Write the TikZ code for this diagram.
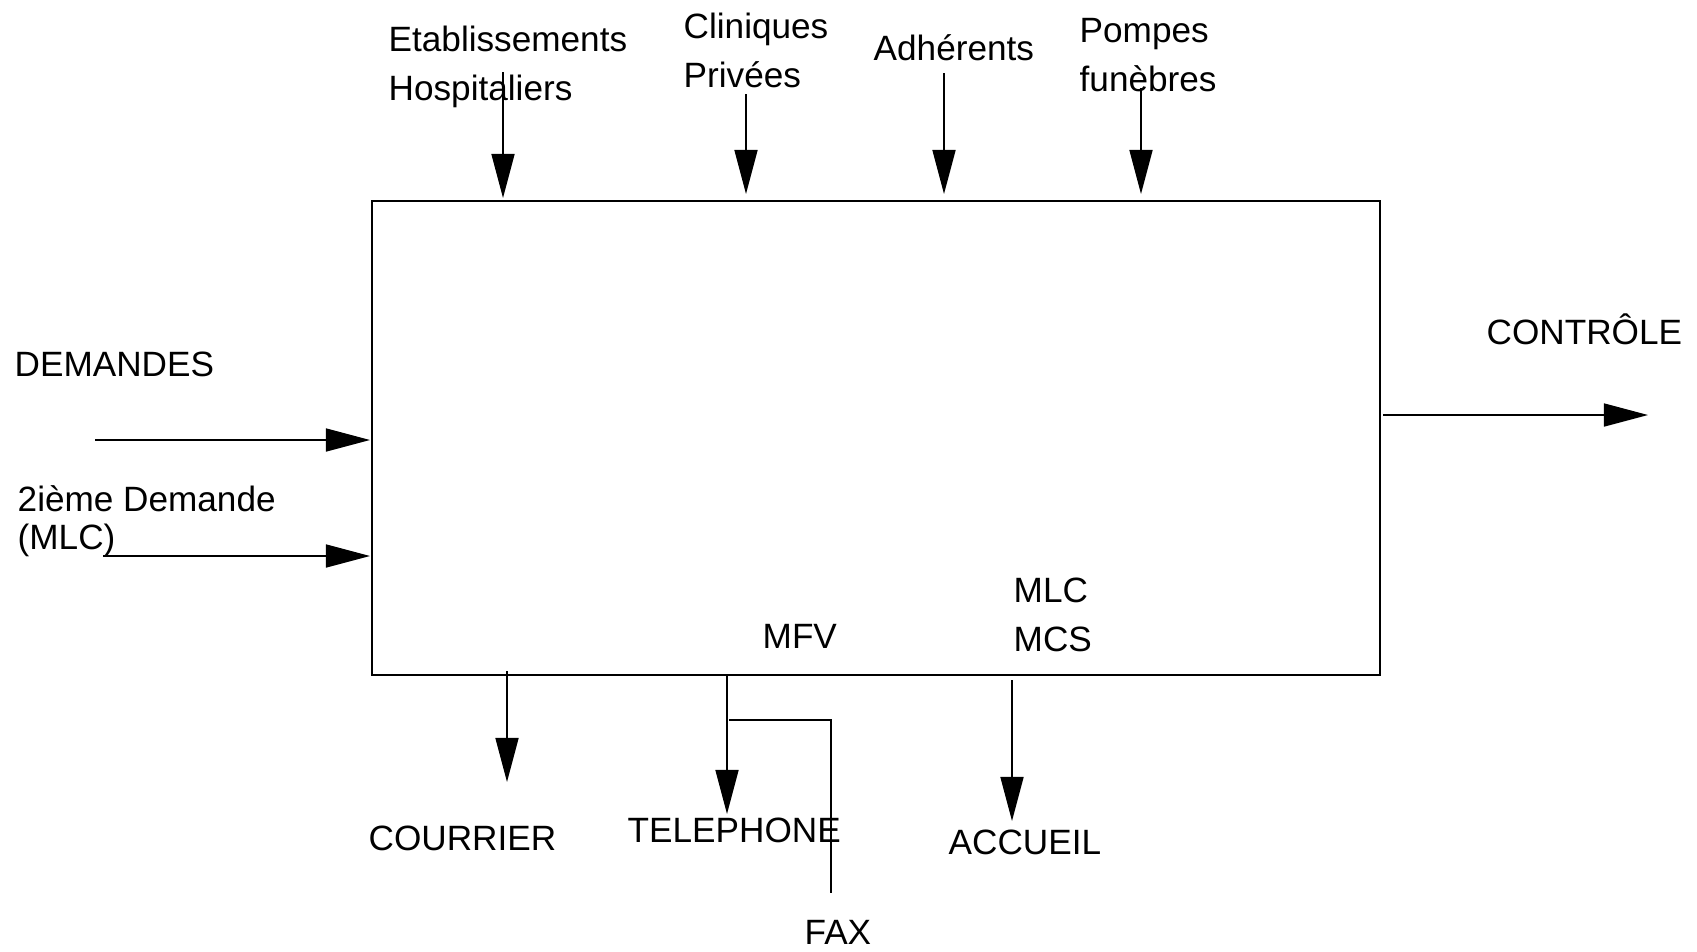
\documentclass[tikz,border=0pt]{standalone}
\usepackage{fontspec}
\setmainfont{Liberation Sans}
\usetikzlibrary{arrows.meta}

\begin{document}
\begin{tikzpicture}[x=0.01cm,y=-0.01cm,
  fl/.style={-{Triangle[length=0.44cm,width=0.23cm]},line width=0.45pt},
  lbl/.style={anchor=west,inner sep=0pt,align=left,font=\fontsize{10}{13.9}\selectfont}]
\useasboundingbox (0,0) rectangle (1697,951) ;
% boite centrale
\node (box) [draw,line width=0.55pt,minimum width=10.08cm,minimum height=4.74cm,inner sep=0pt] at (876,438) {} ;
% entrees du haut
\node (etab) [lbl] at (388,67) {Etablissements\\Hospitaliers} ;
\node (clin) [lbl] at (683,50) {Cliniques\\Priv\'ees} ;
\node (adh) [lbl] at (873,48) {Adh\'erents} ;
\node (pomp) [lbl] at (1079,55) {Pompes\\fun\`ebres} ;
\coordinate (etabA) at (503,72) ; \coordinate (etabB) at (503,198) ;
\coordinate (clinA) at (746,94) ; \coordinate (clinB) at (746,194) ;
\coordinate (adhA) at (944,73) ; \coordinate (adhB) at (944,194) ;
\coordinate (pompA) at (1141,88) ; \coordinate (pompB) at (1141,194) ;
\draw[fl] (etabA) -- (etabB) ;
\draw[fl] (clinA) -- (clinB) ;
\draw[fl] (adhA) -- (adhB) ;
\draw[fl] (pompA) -- (pompB) ;
% entrees de gauche
\node (dem) [lbl] at (14,364) {DEMANDES} ;
\node (dem2) [lbl,font=\fontsize{10}{10.8}\selectfont] at (17,521) {2i\`eme Demande\\(MLC)} ;
\coordinate (demA) at (95,440) ; \coordinate (demB) at (370,440) ;
\coordinate (dem2A) at (103,556) ; \coordinate (dem2B) at (370,556) ;
\draw[fl] (demA) -- (demB) ;
\draw[fl] (dem2A) -- (dem2B) ;
% sortie
\node (ctrl) [lbl] at (1486,329) {CONTR\^OLE} ;
\coordinate (ctrlA) at (1383,415) ; \coordinate (ctrlB) at (1648,415) ;
\draw[fl] (ctrlA) -- (ctrlB) ;
% textes dans la boite
\node (mfv) [lbl] at (762,636) {MFV} ;
\node (mlc) [lbl] at (1013,615) {MLC\\MCS} ;
% supports du bas
\node (cour) [lbl] at (368,838) {COURRIER} ;
\node (tel) [lbl] at (627,830) {TELEPHONE} ;
\node (fax) [lbl] at (804,932) {FAX} ;
\node (acc) [lbl] at (948,842) {ACCUEIL} ;
\coordinate (courA) at (507,671) ; \coordinate (courB) at (507,782) ;
\coordinate (telA) at (727,675) ; \coordinate (telB) at (727,814) ;
\coordinate (faxA) at (729,720) ; \coordinate (faxB) at (831,893) ;
\coordinate (accA) at (1012,680) ; \coordinate (accB) at (1012,821) ;
\draw[fl] (courA) -- (courB) ;
\draw[fl] (telA) -- (telB) ;
\draw[line width=0.45pt] (faxA) -| (faxB) ;
\draw[fl] (accA) -- (accB) ;
\end{tikzpicture}
\end{document}
